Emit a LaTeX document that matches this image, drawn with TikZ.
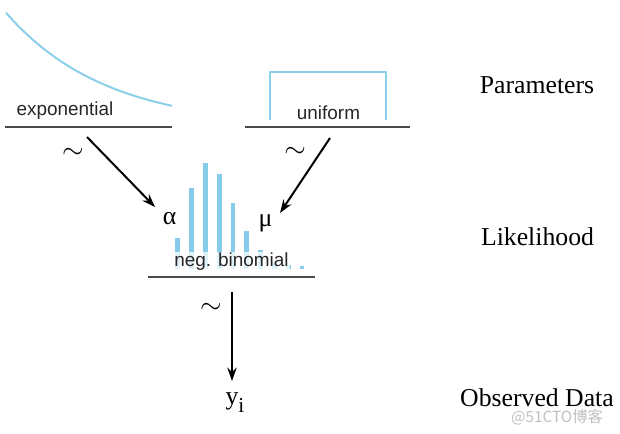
\documentclass[tikz,border=0pt]{standalone}
\usepackage{fontspec}
\setmainfont{Liberation Serif}
\newfontfamily\helv{Liberation Sans}
\newfontfamily\cjk{Noto Sans CJK SC}
\usetikzlibrary{arrows.meta}
\definecolor{distblue}{HTML}{8CCFE8}
\definecolor{barblue}{HTML}{86CCEA}
\definecolor{axisgray}{HTML}{4A4A4A}
\begin{document}
\begin{tikzpicture}[x=0.75pt,y=-0.75pt,
  axisln/.style={draw=axisgray, line width=1.6pt},
  distcurve/.style={draw=distblue, line width=1.5pt},
  barln/.style={draw=barblue, line width=3.6pt},
  arr/.style={draw=black, line width=1.5pt, -{Stealth[length=10pt,width=7pt]}},
  distlabel/.style={font=\helv\fontsize{14.2}{16}\selectfont, text=black!85, inner sep=0pt},
  levellabel/.style={font=\fontsize{19.3}{23}\selectfont, inner sep=0pt},
  sym/.style={font=\fontsize{19.3}{23}\selectfont, inner sep=0pt}]
\useasboundingbox (0,0) rectangle (620,433);

% exponential prior
\draw[distcurve] plot[domain=6:172, samples=80, smooth] (\x, {127.7-115*exp(-0.01*(\x-6))});
\draw[axisln] (5,127) -- (172,127);
\node[distlabel] (expo) at (65,110.5) {exponential};

% uniform prior
\draw[distcurve] (270,120) -- (270,72) -- (386,72) -- (386,120);
\draw[axisln] (245,127) -- (410,127);
\node[distlabel] (unif) at (328.5,112.7) {uniform};

% negative binomial likelihood
\foreach \bx/\by in {177.7/238, 191.5/188, 205.3/163, 219.1/174, 232.9/203, 246.7/231, 260.5/250, 274.3/262, 288.1/265, 301.9/266}
  \draw[barln] (\bx,269) -- (\bx,\by);
\node[distlabel, fill=white, fill opacity=0.75, text opacity=1, inner xsep=1pt, inner ysep=1pt] (negb) at (231.5,262) {neg. binomial};
\draw[axisln] (148,277) -- (315,277);

% parameters
\node[sym] (alpha) at (169.5,219) {α};
\node[sym] (mu) at (265.5,223) {μ};

% arrows
\coordinate (a1s) at (87,137);
\coordinate (a1e) at (155,207);
\coordinate (a2s) at (330,138);
\coordinate (a2e) at (280,213);
\coordinate (a3s) at (232,292);
\coordinate (a3e) at (232,381);
\draw[arr] (a1s) -- (a1e);
\draw[arr] (a2s) -- (a2e);
\draw[arr] (a3s) -- (a3e);
\node[sym] (t1) at (73,153) {$\sim$};
\node[sym] (t2) at (295,152) {$\sim$};
\node[sym] (t3) at (211,308) {$\sim$};

% observed data
\node[sym, anchor=base] (yi) at (235,404) {y\raisebox{-6pt}{\fontsize{16}{16}\selectfont i}};

% level labels
\node[levellabel] (param) at (537,85) {Parameters};
\node[levellabel] (like) at (537.5,237) {Likelihood};
\node[levellabel] (obs) at (537,398) {Observed Data};

% watermark
\node[font=\cjk\fontsize{11.5}{13}\selectfont, text=black!25, inner sep=0pt] (wm) at (557,417) {@51CTO博客};
\end{tikzpicture}
\end{document}
